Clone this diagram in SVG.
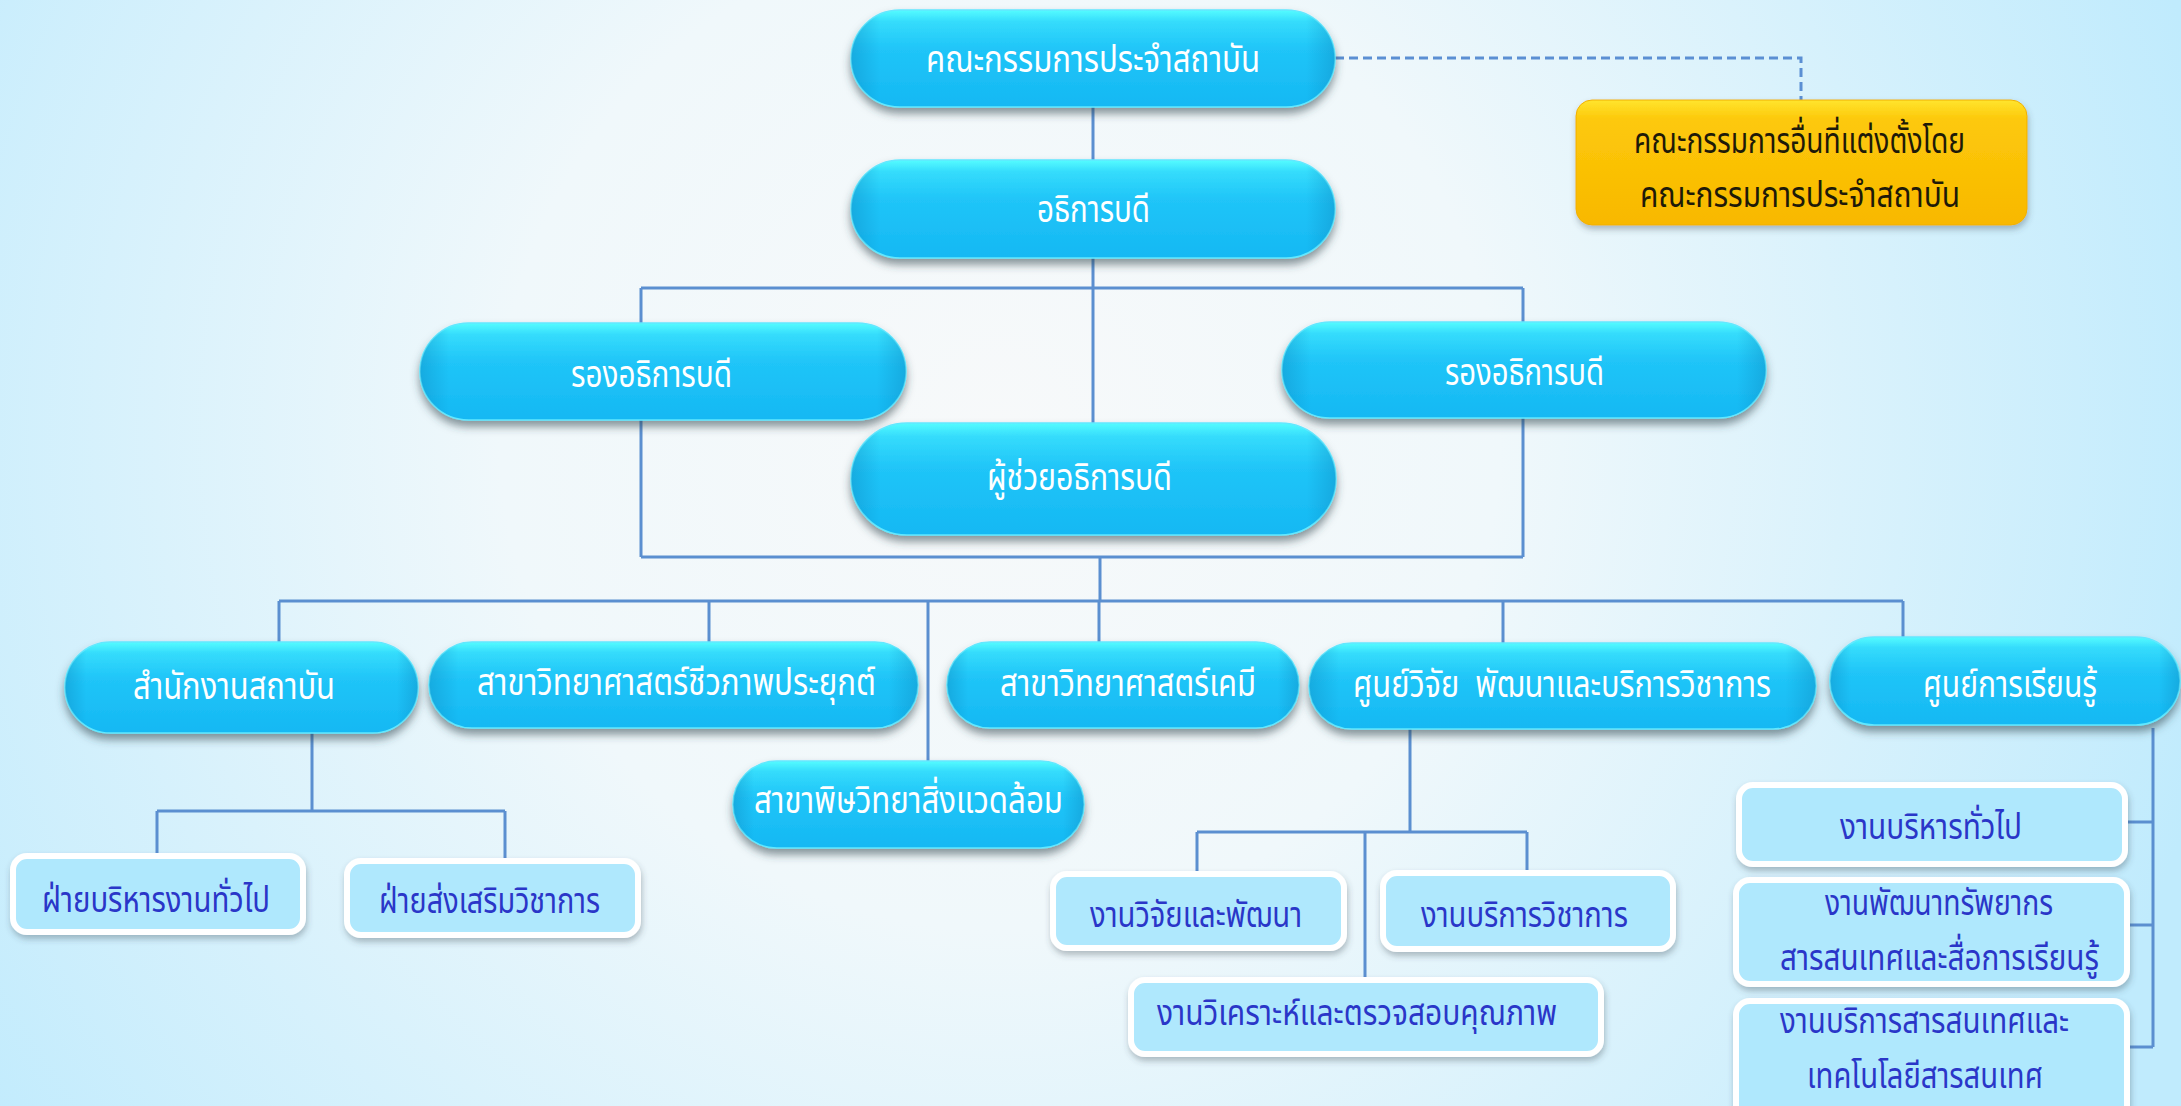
<svg xmlns="http://www.w3.org/2000/svg" width="2181" height="1106" viewBox="0 0 2181 1106">
<defs>
  <radialGradient id="bg" cx="1000" cy="430" r="1250" gradientUnits="userSpaceOnUse">
    <stop offset="0" stop-color="#f7f9fa"/>
    <stop offset="0.4" stop-color="#f0f8fb"/>
    <stop offset="1" stop-color="#c0ebfd"/>
  </radialGradient>
  <linearGradient id="pill" x1="0" y1="0" x2="0" y2="1">
    <stop offset="0" stop-color="#55fcff"/>
    <stop offset="0.12" stop-color="#35dcfc"/>
    <stop offset="0.4" stop-color="#20c5f8"/>
    <stop offset="1" stop-color="#15b8f3"/>
  </linearGradient>
  <linearGradient id="pillEdge" x1="0" y1="0" x2="1" y2="0">
    <stop offset="0" stop-color="#0a7fb5" stop-opacity="0.35"/>
    <stop offset="0.06" stop-color="#0a7fb5" stop-opacity="0"/>
    <stop offset="0.94" stop-color="#0a7fb5" stop-opacity="0"/>
    <stop offset="1" stop-color="#0a7fb5" stop-opacity="0.35"/>
  </linearGradient>
  <linearGradient id="gold" x1="0" y1="0" x2="0" y2="1">
    <stop offset="0" stop-color="#ffe52e"/>
    <stop offset="0.15" stop-color="#fdc90a"/>
    <stop offset="1" stop-color="#f8b800"/>
  </linearGradient>
  <filter id="sh" x="-10%" y="-20%" width="120%" height="150%">
    <feDropShadow dx="0" dy="6" stdDeviation="4" flood-color="#33434d" flood-opacity="0.55"/>
  </filter>
  <filter id="sh2" x="-10%" y="-20%" width="120%" height="150%">
    <feDropShadow dx="1" dy="4" stdDeviation="3" flood-color="#3a4a55" flood-opacity="0.35"/>
  </filter>
</defs>
<style>
  .pill { fill: url(#pill); stroke: #62e8ff; stroke-width: 1.5; }
  .edge { fill: url(#pillEdge); }
  .lbox { fill: #afe8fd; stroke: #ffffff; stroke-width: 6; }
  .gbox { fill: url(#gold); stroke: #f2b000; stroke-width: 1; }
  .tw { font-family: 'Noto Sans Thai', 'Noto Sans', 'DejaVu Sans', sans-serif; font-size: 38px; fill: #ffffff; }
  .tb { font-family: 'Noto Sans Thai', 'Noto Sans', 'DejaVu Sans', sans-serif; font-size: 36px; fill: #2a36c8; }
  .tk { font-family: 'Noto Sans Thai', 'Noto Sans', 'DejaVu Sans', sans-serif; font-size: 36px; fill: #1e1a08; }
  .ln { fill: none; stroke: #5b8fd0; stroke-width: 3; }
  .dash { fill: none; stroke: #5b8fd3; stroke-width: 3; stroke-dasharray: 9 5; }
</style>
<rect x="0" y="0" width="2181" height="1106" fill="url(#bg)"/>

<g id="connectors">
  <path class="dash" d="M1335 58 H1801 V100"/>
  <path class="ln" d="M1093 107 V160"/>
  <path class="ln" d="M1093 258 V423"/>
  <path class="ln" d="M641 288 H1523"/>
  <path class="ln" d="M641 288 V323 M641 420 V557"/>
  <path class="ln" d="M1523 288 V322 M1523 418 V557"/>
  <path class="ln" d="M641 557 H1523"/>
  <path class="ln" d="M1100 557 V601"/>
  <path class="ln" d="M279 601 H1903"/>
  <path class="ln" d="M279 601 V642 M709 601 V642 M928 601 V761 M1099 601 V642 M1503 601 V643 M1903 601 V637"/>
  <path class="ln" d="M312 733 V811 M157 811 H505 M157 811 V853 M505 811 V858"/>
  <path class="ln" d="M1410 729 V832 M1197 832 H1527 M1197 832 V871 M1365 832 V977 M1527 832 V870"/>
  <path class="ln" d="M2153 728 V1047 M2128 822 H2153 M2130 925 H2153 M2130 1047 H2153"/>
</g>

<g id="n-council">
  <rect class="pill" x="851" y="10" width="484" height="97" rx="48.5" filter="url(#sh)"/>
  <rect class="edge" x="851" y="10" width="484" height="97" rx="48.5"/>
  <text class="tw" x="926" y="72" textLength="334" lengthAdjust="spacingAndGlyphs">คณะกรรมการประจำสถาบัน</text>
</g>

<g id="n-other-committees">
  <rect class="gbox" x="1576" y="100" width="451" height="125" rx="16" filter="url(#sh2)"/>
  <text class="tk" x="1634" y="153" textLength="331" lengthAdjust="spacingAndGlyphs">คณะกรรมการอื่นที่แต่งตั้งโดย</text>
  <text class="tk" x="1640" y="207" textLength="320" lengthAdjust="spacingAndGlyphs">คณะกรรมการประจำสถาบัน</text>
</g>

<g id="n-president">
  <rect class="pill" x="851" y="160" width="484" height="98" rx="49" filter="url(#sh)"/>
  <rect class="edge" x="851" y="160" width="484" height="98" rx="49"/>
  <text class="tw" x="1037" y="222" textLength="113" lengthAdjust="spacingAndGlyphs">อธิการบดี</text>
</g>

<g id="n-vp-left">
  <rect class="pill" x="420" y="323" width="486" height="97" rx="48.5" filter="url(#sh)"/>
  <rect class="edge" x="420" y="323" width="486" height="97" rx="48.5"/>
  <text class="tw" x="571" y="387" textLength="161" lengthAdjust="spacingAndGlyphs">รองอธิการบดี</text>
</g>

<g id="n-vp-right">
  <rect class="pill" x="1282" y="322" width="484" height="96" rx="48" filter="url(#sh)"/>
  <rect class="edge" x="1282" y="322" width="484" height="96" rx="48"/>
  <text class="tw" x="1445" y="385" textLength="159" lengthAdjust="spacingAndGlyphs">รองอธิการบดี</text>
</g>

<g id="n-assistant">
  <rect class="pill" x="851" y="423" width="485" height="112" rx="56" filter="url(#sh)"/>
  <rect class="edge" x="851" y="423" width="485" height="112" rx="56"/>
  <text class="tw" x="987" y="490" textLength="185" lengthAdjust="spacingAndGlyphs">ผู้ช่วยอธิการบดี</text>
</g>

<g id="n-office">
  <rect class="pill" x="65" y="642" width="353" height="91" rx="45.5" filter="url(#sh)"/>
  <rect class="edge" x="65" y="642" width="353" height="91" rx="45.5"/>
  <text class="tw" x="133" y="699" textLength="202" lengthAdjust="spacingAndGlyphs">สำนักงานสถาบัน</text>
</g>

<g id="n-bio">
  <rect class="pill" x="429" y="642" width="489" height="86" rx="43" filter="url(#sh)"/>
  <rect class="edge" x="429" y="642" width="489" height="86" rx="43"/>
  <text class="tw" x="477" y="695" textLength="399" lengthAdjust="spacingAndGlyphs">สาขาวิทยาศาสตร์ชีวภาพประยุกต์</text>
</g>

<g id="n-chem">
  <rect class="pill" x="947" y="642" width="352" height="86" rx="43" filter="url(#sh)"/>
  <rect class="edge" x="947" y="642" width="352" height="86" rx="43"/>
  <text class="tw" x="1000" y="696" textLength="256" lengthAdjust="spacingAndGlyphs">สาขาวิทยาศาสตร์เคมี</text>
</g>

<g id="n-tox">
  <rect class="pill" x="733" y="761" width="351" height="87" rx="43.5" filter="url(#sh)"/>
  <rect class="edge" x="733" y="761" width="351" height="87" rx="43.5"/>
  <text class="tw" x="754" y="813" textLength="309" lengthAdjust="spacingAndGlyphs">สาขาพิษวิทยาสิ่งแวดล้อม</text>
</g>

<g id="n-research">
  <rect class="pill" x="1309" y="643" width="507" height="86" rx="43" filter="url(#sh)"/>
  <rect class="edge" x="1309" y="643" width="507" height="86" rx="43"/>
  <text class="tw" x="1353" y="697" textLength="418" lengthAdjust="spacingAndGlyphs" xml:space="preserve">ศูนย์วิจัย  พัฒนาและบริการวิชาการ</text>
</g>

<g id="n-learning">
  <rect class="pill" x="1830" y="637" width="350" height="88" rx="44" filter="url(#sh)"/>
  <rect class="edge" x="1830" y="637" width="350" height="88" rx="44"/>
  <text class="tw" x="1923" y="697" textLength="174" lengthAdjust="spacingAndGlyphs">ศูนย์การเรียนรู้</text>
</g>

<g id="n-admin-div">
  <rect class="lbox" x="13" y="856" width="290" height="76" rx="14" filter="url(#sh2)"/>
  <text class="tb" x="42" y="912" textLength="228" lengthAdjust="spacingAndGlyphs">ฝ่ายบริหารงานทั่วไป</text>
</g>

<g id="n-academic-div">
  <rect class="lbox" x="347" y="861" width="291" height="74" rx="14" filter="url(#sh2)"/>
  <text class="tb" x="379" y="913" textLength="221" lengthAdjust="spacingAndGlyphs">ฝ่ายส่งเสริมวิชาการ</text>
</g>

<g id="n-rd">
  <rect class="lbox" x="1053" y="874" width="291" height="74" rx="14" filter="url(#sh2)"/>
  <text class="tb" x="1090" y="927" textLength="212" lengthAdjust="spacingAndGlyphs">งานวิจัยและพัฒนา</text>
</g>

<g id="n-service">
  <rect class="lbox" x="1383" y="873" width="290" height="76" rx="14" filter="url(#sh2)"/>
  <text class="tb" x="1421" y="927" textLength="207" lengthAdjust="spacingAndGlyphs">งานบริการวิชาการ</text>
</g>

<g id="n-analysis">
  <rect class="lbox" x="1131" y="980" width="470" height="74" rx="14" filter="url(#sh2)"/>
  <text class="tb" x="1157" y="1025" textLength="400" lengthAdjust="spacingAndGlyphs">งานวิเคราะห์และตรวจสอบคุณภาพ</text>
</g>

<g id="n-general-admin">
  <rect class="lbox" x="1739" y="785" width="386" height="79" rx="14" filter="url(#sh2)"/>
  <text class="tb" x="1840" y="839" textLength="182" lengthAdjust="spacingAndGlyphs">งานบริหารทั่วไป</text>
</g>

<g id="n-resources">
  <rect class="lbox" x="1736" y="880" width="391" height="104" rx="14" filter="url(#sh2)"/>
  <text class="tb" x="1825" y="915" textLength="228" lengthAdjust="spacingAndGlyphs">งานพัฒนาทรัพยากร</text>
  <text class="tb" x="1780" y="970" textLength="319" lengthAdjust="spacingAndGlyphs">สารสนเทศและสื่อการเรียนรู้</text>
</g>

<g id="n-infoservice">
  <rect class="lbox" x="1736" y="1001" width="391" height="120" rx="14" filter="url(#sh2)"/>
  <text class="tb" x="1780" y="1033" textLength="289" lengthAdjust="spacingAndGlyphs">งานบริการสารสนเทศและ</text>
  <text class="tb" x="1807" y="1088" textLength="236" lengthAdjust="spacingAndGlyphs">เทคโนโลยีสารสนเทศ</text>
</g>
</svg>
